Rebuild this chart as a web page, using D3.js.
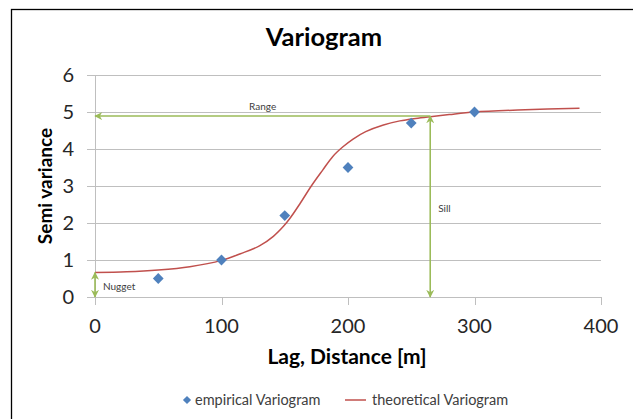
<!DOCTYPE html>
<html>
<head>
<meta charset="utf-8">
<script src="https://cdn.jsdelivr.net/npm/d3@7"></script>
<style>
  body { margin: 0; background: #fff; }
  svg { display: block; font-family: "Lato", "Liberation Sans", sans-serif; }
</style>
</head>
<body>
<div id="chart"></div>
<script>
// empirical variogram (lag, semi variance)
const lagEmp = [50, 100, 150, 200, 250, 300];
const semiEmp = [0.5, 1.0, 2.2, 3.5, 4.7, 5.0];

// theoretical variogram
const lagTheo = [0, 25, 50, 75, 100, 115, 130, 141, 149, 154, 162, 171, 180, 188, 196, 204, 214, 228, 241, 252, 265, 280, 300, 340, 383];
const semiTheo = [0.66, 0.68, 0.73, 0.82, 0.99, 1.17, 1.38, 1.64, 1.91, 2.12, 2.52, 3.0, 3.43, 3.8, 4.06, 4.27, 4.47, 4.65, 4.76, 4.82, 4.87, 4.93, 5.0, 5.06, 5.1];

const xTicks = [0, 100, 200, 300, 400];
const yTicks = [0, 1, 2, 3, 4, 5, 6];

// annotations
const nugget = 0.66;
const rangeLag = 265;
const sill = 4.89;

const svgWidth = 633, svgHeight = 419;
const margin = {left: 95, top: 75, right: 32, bottom: 122};
const width = svgWidth - margin.left - margin.right;
const height = svgHeight - margin.top - margin.bottom;

const grey = "#bfbfbf", green = "#9bbb59", red = "#c0504d", blue = "#4f81bd", txt = "#404040";

const svg = d3.select("#chart").append("svg")
    .attr("width", svgWidth)
    .attr("height", svgHeight);

const defs = svg.append("defs");
defs.append("marker")
    .attr("id", "arr")
    .attr("viewBox", "0 0 10 10")
    .attr("refX", 9).attr("refY", 5)
    .attr("markerWidth", 5).attr("markerHeight", 5)
    .attr("markerUnits", "strokeWidth")
    .attr("orient", "auto-start-reverse")
    .append("path")
    .attr("d", "M0,0 L10,5 L0,10 L3,5 Z")
    .attr("fill", green);

// chart frame (cropped on right and bottom)
svg.append("rect")
    .attr("x", 11.5).attr("y", 9.5)
    .attr("width", 700).attr("height", 500)
    .attr("fill", "none").attr("stroke", "#000").attr("stroke-width", 1.3);

const g = svg.append("g")
    .attr("transform", "translate(" + margin.left + "," + margin.top + ")");

const xscale = d3.scaleLinear().domain([0, 400]).range([0, width]);
const yscale = d3.scaleLinear().domain([0, 6]).range([height, 0]);

// gridlines + left ticks
g.selectAll(".grid")
    .data(yTicks)
    .enter().append("line")
    .attr("x1", -8).attr("x2", width)
    .attr("y1", d => Math.round(yscale(d)) + 0.5)
    .attr("y2", d => Math.round(yscale(d)) + 0.5)
    .attr("stroke", grey).attr("stroke-width", 1);

// y axis line
g.append("line")
    .attr("x1", 0.5).attr("x2", 0.5)
    .attr("y1", 0).attr("y2", height)
    .attr("stroke", grey);

// x ticks
g.selectAll(".xtick")
    .data(xTicks)
    .enter().append("line")
    .attr("x1", d => Math.round(xscale(d)) + 0.5)
    .attr("x2", d => Math.round(xscale(d)) + 0.5)
    .attr("y1", height).attr("y2", height + 8)
    .attr("stroke", grey);

g.selectAll(".ylab")
    .data(yTicks)
    .enter().append("text")
    .attr("x", -21)
    .attr("y", d => yscale(d))
    .attr("dy", "0.36em")
    .attr("text-anchor", "end")
    .attr("font-size", 20)
    .attr("fill", "#262626")
    .text(d => d);

g.selectAll(".xlab")
    .data(xTicks)
    .enter().append("text")
    .attr("x", d => xscale(d))
    .attr("y", height + 36)
    .attr("text-anchor", "middle")
    .attr("font-size", 20)
    .attr("fill", "#262626")
    .text(d => d);

// theoretical curve
const line = d3.line()
    .x((d, i) => xscale(lagTheo[i]))
    .y(d => yscale(d))
    .curve(d3.curveCatmullRom.alpha(0.5));

g.append("path")
    .datum(semiTheo)
    .attr("d", line)
    .attr("fill", "none")
    .attr("stroke", red)
    .attr("stroke-width", 1.5);

// annotation arrows
g.append("line")
    .attr("x1", xscale(0)).attr("x2", xscale(0))
    .attr("y1", yscale(0)).attr("y2", yscale(nugget))
    .attr("stroke", green).attr("stroke-width", 1.6)
    .attr("marker-start", "url(#arr)").attr("marker-end", "url(#arr)");

g.append("line")
    .attr("x1", xscale(rangeLag)).attr("x2", xscale(rangeLag))
    .attr("y1", yscale(0)).attr("y2", yscale(sill))
    .attr("stroke", green).attr("stroke-width", 1.6)
    .attr("marker-start", "url(#arr)").attr("marker-end", "url(#arr)");

g.append("line")
    .attr("x1", xscale(rangeLag)).attr("x2", xscale(0))
    .attr("y1", yscale(sill)).attr("y2", yscale(sill))
    .attr("stroke", green).attr("stroke-width", 1.6)
    .attr("marker-end", "url(#arr)");

g.append("text")
    .attr("x", xscale(0) + 8).attr("y", yscale(0) - 7)
    .attr("font-size", 10).attr("fill", txt)
    .text("Nugget");

g.append("text")
    .attr("x", xscale(rangeLag / 2)).attr("y", yscale(sill) - 6)
    .attr("text-anchor", "middle")
    .attr("font-size", 10).attr("fill", txt)
    .text("Range");

g.append("text")
    .attr("x", xscale(rangeLag) + 8).attr("y", yscale(2.3))
    .attr("font-size", 10).attr("fill", txt)
    .text("Sill");

// empirical points
const diamond = d3.symbol().type(d3.symbolSquare).size(58);
g.selectAll(".pt")
    .data(semiEmp)
    .enter().append("path")
    .attr("d", diamond)
    .attr("transform", (d, i) => "translate(" + xscale(lagEmp[i]) + "," + yscale(d) + ") rotate(45)")
    .attr("fill", blue);

// titles
svg.append("text")
    .attr("x", 324).attr("y", 46)
    .attr("text-anchor", "middle")
    .attr("font-size", 25.5).attr("font-weight", "bold")
    .attr("fill", "#000")
    .text("Variogram");

svg.append("text")
    .attr("transform", "translate(52,186) rotate(-90)")
    .attr("text-anchor", "middle")
    .attr("font-size", 19).attr("font-weight", "bold")
    .attr("fill", "#000")
    .text("Semi variance");

svg.append("text")
    .attr("x", 347).attr("y", 364)
    .attr("text-anchor", "middle")
    .attr("font-size", 21).attr("font-weight", "bold")
    .attr("fill", "#000")
    .text("Lag, Distance [m]");

// legend
const legend = svg.append("g").attr("transform", "translate(0,400)");
legend.append("path")
    .attr("d", d3.symbol().type(d3.symbolSquare).size(34))
    .attr("transform", "translate(187,0) rotate(45)")
    .attr("fill", blue);
legend.append("text")
    .attr("x", 195).attr("y", 0).attr("dy", "0.35em")
    .attr("font-size", 14.5).attr("fill", txt)
    .text("empirical Variogram");
legend.append("line")
    .attr("x1", 345).attr("x2", 366)
    .attr("y1", 0).attr("y2", 0)
    .attr("stroke", red).attr("stroke-width", 1.5);
legend.append("text")
    .attr("x", 372).attr("y", 0).attr("dy", "0.35em")
    .attr("font-size", 14.5).attr("fill", txt)
    .text("theoretical  Variogram");
</script>
</body>
</html>
